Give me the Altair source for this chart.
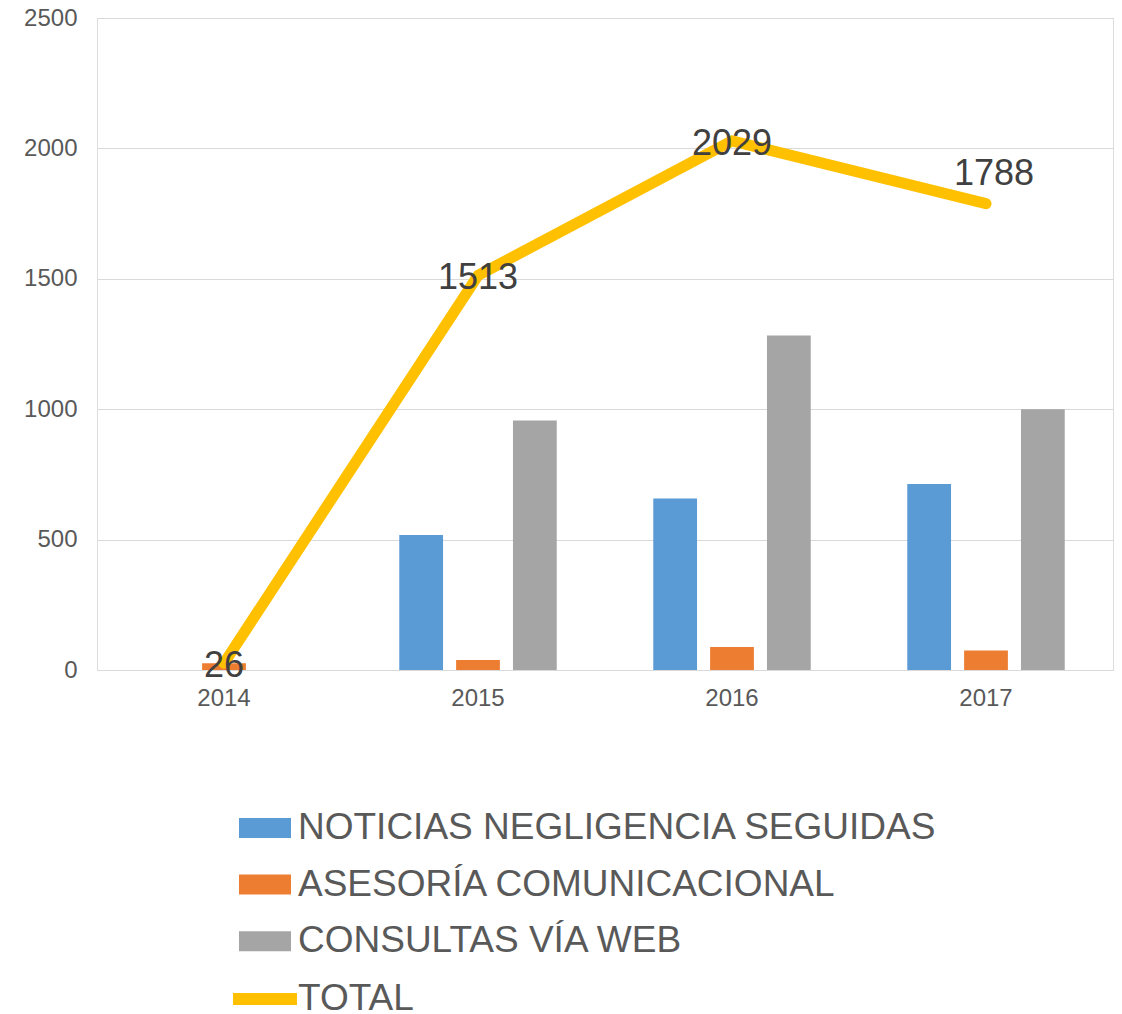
import altair as alt
import pandas as pd

years = ["2014", "2015", "2016", "2017"]
series = ["NOTICIAS NEGLIGENCIA SEGUIDAS", "ASESORÍA COMUNICACIONAL", "CONSULTAS VÍA WEB"]
noticias = [0, 518, 658, 713]
asesoria = [26, 38, 88, 75]
consultas = [0, 957, 1283, 1000]
total = [26, 1513, 2029, 1788]
total_name = "TOTAL"
y_ticks = [0, 500, 1000, 1500, 2000, 2500]
colors = ["#5B9BD5", "#ED7D31", "#A5A5A5"]
line_color = "#FFC000"

rows = []
for i, yr in enumerate(years):
    for s, vals in zip(series, [noticias, asesoria, consultas]):
        rows.append({"year": yr, "serie": s, "value": vals[i]})
bars_df = pd.DataFrame(rows)
total_df = pd.DataFrame({"year": years, "value": total, "serie": [total_name] * len(years)})

FONT = "Liberation Sans"

x = alt.X(
    "year:N",
    sort=years,
    scale=alt.Scale(paddingInner=0.38, paddingOuter=0.19),
    axis=alt.Axis(title=None, labelAngle=0, ticks=False, grid=False, domain=True,
                  domainColor="#d9d9d9", domainWidth=1, labelFontSize=24,
                  labelColor="#595959", labelPadding=16, labelFont=FONT),
)
y = alt.Y(
    "value:Q",
    scale=alt.Scale(domain=[0, 2500], nice=False),
    axis=alt.Axis(title=None, values=y_ticks, format="d", ticks=False, domain=False, grid=True,
                  gridColor="#d9d9d9", gridWidth=1, labelFontSize=24,
                  labelColor="#595959", labelPadding=20, labelFont=FONT),
)

bars = alt.Chart(bars_df).mark_bar().encode(
    x=x,
    xOffset=alt.XOffset("serie:N", sort=series,
                        scale=alt.Scale(domain=series, paddingInner=0.23, paddingOuter=0)),
    y=y,
    color=alt.Color(
        "serie:N",
        scale=alt.Scale(domain=series, range=colors),
        legend=alt.Legend(
            title=None, orient="none", legendX=142, legendY=784, direction="vertical",
            symbolType="M-1,-0.385L1,-0.385L1,0.385L-1,0.385Z", symbolSize=2704,
            symbolStrokeWidth=0, symbolOpacity=1, labelFontSize=37, labelColor="#595959",
            labelLimit=1000, labelOffset=7, rowPadding=12.6, labelFont=FONT,
        ),
    ),
)

line = alt.Chart(total_df).mark_line(strokeWidth=11, strokeCap="round", strokeJoin="round").encode(
    x=x,
    y=y,
    stroke=alt.Stroke(
        "serie:N",
        scale=alt.Scale(domain=[total_name], range=[line_color]),
        legend=alt.Legend(
            title=None, orient="none", legendX=130, legendY=943, direction="vertical",
            symbolType="stroke", symbolSize=4096, symbolStrokeWidth=12, symbolOpacity=1,
            labelFontSize=37, labelColor="#595959", labelLimit=1000,
            labelOffset={"expr": "-5"}, labelFont=FONT,
        ),
    ),
)

labels_center = alt.Chart(total_df).transform_filter(
    alt.datum.year != years[-1]
).mark_text(fontSize=36, color="#404040", baseline="middle", dy=3, font=FONT).encode(
    x=x, y=y, text=alt.Text("value:Q")
)
labels_above = alt.Chart(total_df).transform_filter(
    alt.datum.year == years[-1]
).mark_text(fontSize=36, color="#404040", baseline="middle", dy=-30, dx=8, font=FONT).encode(
    x=x, y=y, text=alt.Text("value:Q")
)

chart = alt.layer(bars, line, labels_center, labels_above).resolve_scale(
    color="independent", stroke="independent"
).properties(
    width=1016,
    height=652,
    autosize=alt.AutoSizeParams(type="none"),
    padding={"left": 89, "top": 10, "right": 1, "bottom": 344},
).configure_view(stroke=None).configure(font=FONT)

chart.save("out.html", embed_options={"renderer": "svg", "actions": False})
